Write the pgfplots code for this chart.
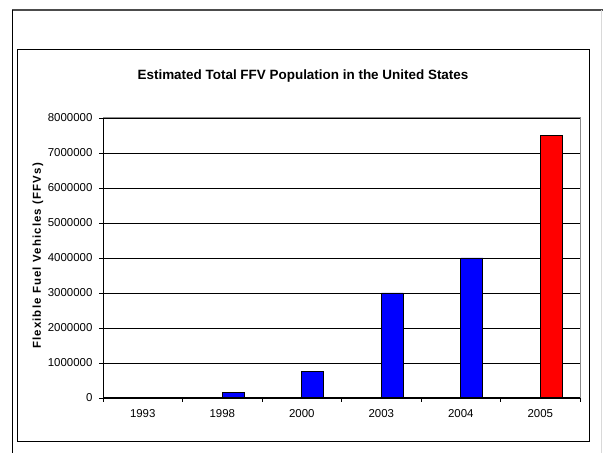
\documentclass[border=0pt]{standalone}
\usepackage{pgfplots}
\pgfplotsset{compat=1.18}
\usepackage{fontspec}
\setmainfont{Liberation Sans}

\begin{document}
\begin{tikzpicture}[x=1bp,y=1bp]
\useasboundingbox (0,0) rectangle (603,453);
% outer frame lines
\draw[black!70, line width=1.5bp] (12,443) -- (603,443);
\draw[black, line width=1bp] (12,443) -- (12,0);
\draw[black!15, line width=1bp] (601,443) -- (601,0);
% chart frame
\draw[black, line width=1bp] (17,403) rectangle (589,11);

\node[font=\fontsize{13.5}{16}\selectfont\bfseries] at (303,377)
  {Estimated Total FFV Population in the United States};
\node[font=\fontsize{11.5}{13}\selectfont\bfseries\addfontfeature{LetterSpace=10}, rotate=90] at (38,197)
  {Flexible Fuel Vehicles (FFVs)};

\begin{axis}[
    at={(103bp,55bp)}, anchor=south west,
    scale only axis,
    width=477bp, height=280bp,
    xmin=0, xmax=6,
    ymin=0, ymax=8000000,
    ytick={0,1000000,...,8000000},
    scaled y ticks=false,
    yticklabel style={/pgf/number format/.cd, fixed, 1000 sep={}, assume math mode=true, /tikz/.cd, xshift=-3bp},
    xtick={0,...,6},
    xticklabels={1993,1998,2000,2003,2004,2005},
    x tick label as interval=true,
    xticklabel style={yshift=-4bp},
    tick label style={font=\fontsize{11.5}{13}\selectfont},
    ymajorgrids,
    grid style={black, line width=0.8bp},
    axis line style={draw=none},
    tick style={black, line width=0.8bp},
    tick align=outside,
    major tick length=4bp,
    xtick pos=bottom, ytick pos=left,
    ybar, bar width=0.277, bar shift=0.1385,
    clip=false,
]
\addplot[fill=blue, draw=black, line width=0.7bp] coordinates {
    (1.5,150000) (2.5,750000) (3.5,3000000) (4.5,4000000)
};
\addplot[fill=red, draw=black, line width=0.7bp] coordinates {
    (5.5,7500000)
};
\draw[black!45, line width=1bp] (axis cs:0,8000000) -- (axis cs:6,8000000) -- (axis cs:6,0);
\draw[black, line width=1bp] (axis cs:0,8000000) -- (axis cs:0,0) -- (axis cs:6,0);
\end{axis}
\end{tikzpicture}
\end{document}
